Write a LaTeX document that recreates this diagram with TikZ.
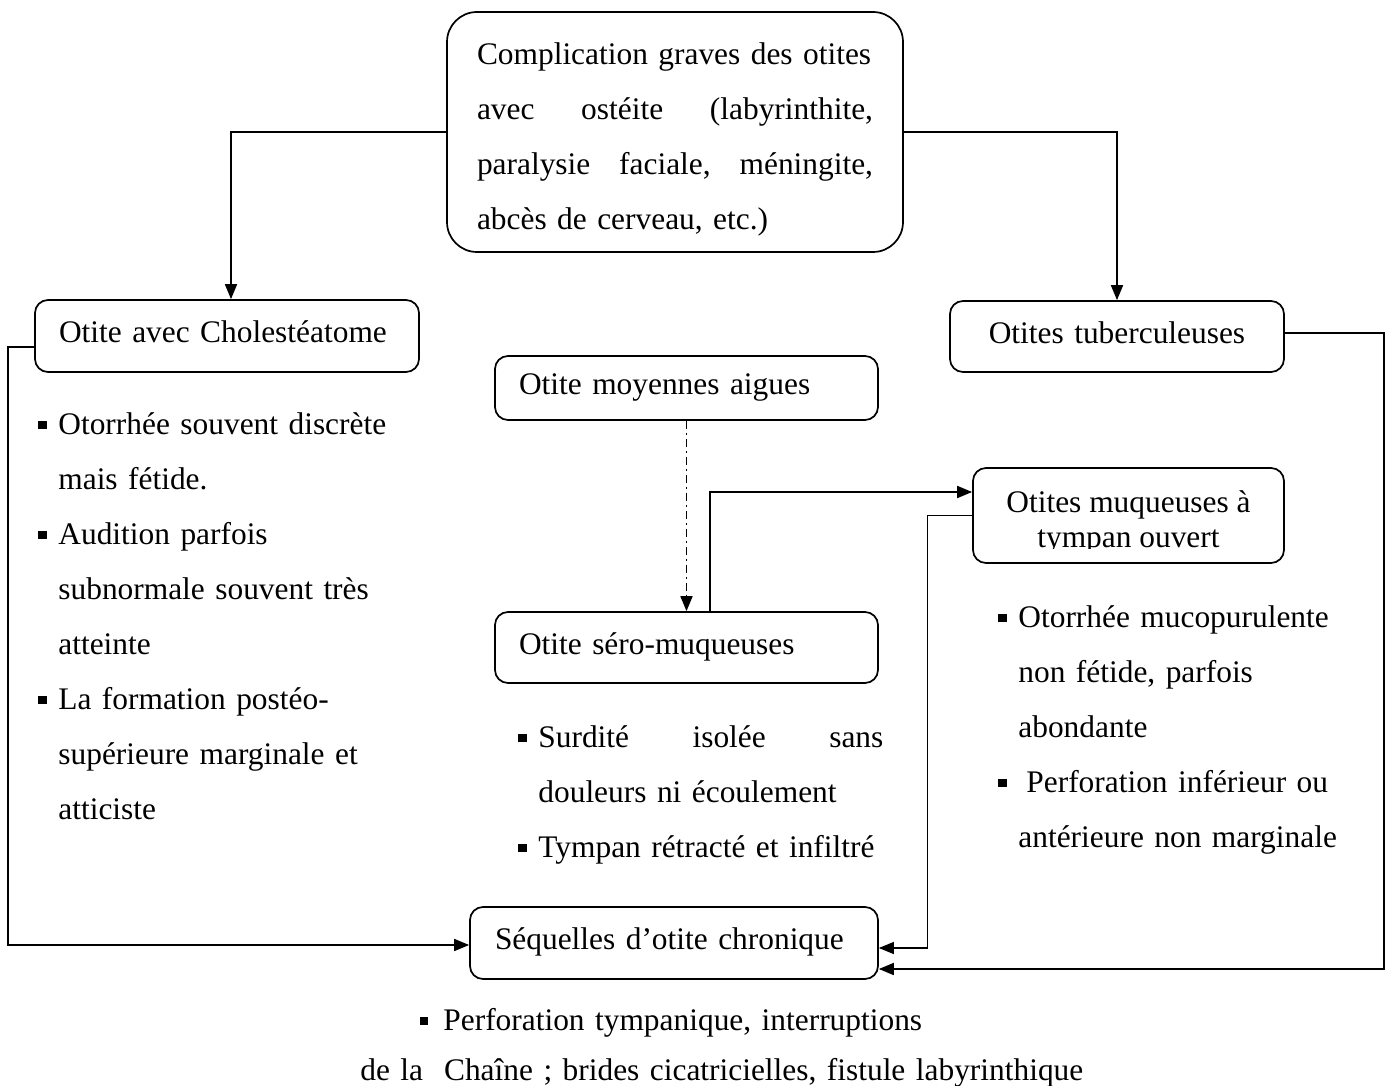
\documentclass[tikz,border=0pt]{standalone}
\usepackage{fontspec}
\setmainfont{Liberation Serif}
\usetikzlibrary{arrows.meta}
\newcommand{\puce}{\leavevmode\llap{\rule[0.175em]{0.27em}{0.27em}\hspace{5.8pt}}}

\begin{document}
\begin{tikzpicture}[x=0.5pt, y=-0.5pt,
  every node/.style={font=\fontsize{15.7}{27.5}\selectfont},
  boite/.style={draw, line width=0.85pt, rounded corners=6.5pt, inner xsep=12pt, inner ysep=0pt, align=left},
  simple/.style={boite, text height=0.88em, text depth=0.22em},
  liste/.style={inner sep=0pt, align=left, anchor=base west},
  fleche/.style={line width=0.85pt, -{Triangle[length=7.5pt,width=6pt]}}]
\useasboundingbox (0,0) rectangle (1389,1086);
% boites
\node[boite, rounded corners=15pt, inner xsep=15pt, text width=198pt, minimum height=120pt] (compl) at (675,132) {\rule{0pt}{18.7pt}Complication graves des otites\\ avec\hfill ostéite\hfill (labyrinthite,\\ paralysie\hfill faciale,\hfill méningite,\\ abcès de cerveau, etc.)};
\node[simple, text width=168pt, minimum height=36pt] (chol) at (227,336) {Otite avec Cholestéatome};
\node[simple, align=center, text width=143pt, minimum height=35.5pt] (tuber) at (1117,336.5) {Otites tuberculeuses};
\node[simple, text width=167.5pt, minimum height=32pt] (aigue) at (686.5,388) {Otite moyennes aigues};
\node[simple, text width=167.5pt, minimum height=35.5pt] (sero) at (686.5,647.5) {Otite séro-muqueuses};
\node[boite, minimum width=155.5pt, minimum height=47.5pt] (muqueuse) at (1128.5,515.5) {};
\begin{scope}
\clip (muqueuse.north west) rectangle ([yshift=7.5pt]muqueuse.south east);
\node[align=center, font=\fontsize{15.7}{17.5}\selectfont] (muqtexte) at ([yshift=-3.5pt]muqueuse.center) {Otites muqueuses à\\ tympan ouvert};
\end{scope}
\node[simple, inner xsep=12.5pt, text width=179pt, minimum height=36pt] (sequelle) at (674,943) {Séquelles d’otite chronique};
% listes
\node[liste, text width=175pt] (listechol) at (58,434.5) {\puce Otorrhée souvent discrète\\ mais fétide.\\ \puce Audition parfois\\ subnormale souvent très\\ atteinte\\ \puce La formation postéo-\\ supérieure marginale et\\ atticiste};
\node[liste, text width=172.5pt] (listesero) at (538,747.5) {\puce Surdité\hfill isolée\hfill sans\\ douleurs ni écoulement\\ \puce Tympan rétracté et infiltré};
\node[liste, text width=170pt] (listemuq) at (1018,627.5) {\puce Otorrhée mucopurulente\\ non fétide, parfois\\ abondante\\ \puce\hspace{4pt}Perforation inférieur ou\\ antérieure non marginale};
\node[liste, text width=420pt, font=\fontsize{15.7}{25}\selectfont] (listeseq) at (360,1030.5) {\hspace*{41.5pt}\llap{\rule[0.175em]{0.27em}{0.27em}\hspace{7.5pt}}Perforation tympanique, interruptions\\ de la\ \ Chaîne ; brides cicatricielles, fistule labyrinthique};
% fleches
\draw[fleche] (compl.west) -| ([xshift=2pt]chol.north);
\draw[fleche] (compl.east) -| (tuber.north);
\draw[fleche, dash pattern=on 4pt off 2pt on 1pt off 2pt] (aigue.south) -- (sero.north);
\draw[fleche] ([xshift=11.75pt]sero.north) |- ([yshift=11.75pt]muqueuse.west);
\draw[fleche, line width=0.6pt] (muqueuse.west) -- ++(-45,0) |- ([yshift=-2.5pt]sequelle.east);
\draw[fleche] ([yshift=-5.5pt]chol.west) -- ++(-26,0) |- ([yshift=-1pt]sequelle.west);
\draw[fleche] ([yshift=1.75pt]tuber.east) -- ++(99,0) |- ([yshift=-13pt]sequelle.east);
\end{tikzpicture}
\end{document}
